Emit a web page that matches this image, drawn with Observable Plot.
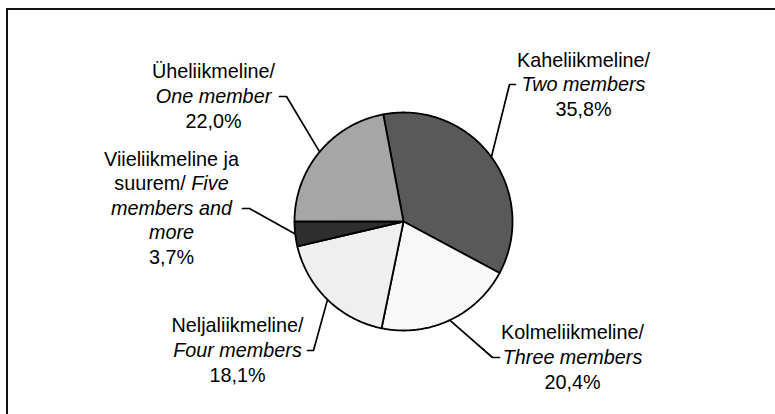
<!DOCTYPE html>
<html><head><meta charset="utf-8">
<script src="https://cdn.jsdelivr.net/npm/d3@7"></script>
<script src="https://cdn.jsdelivr.net/npm/@observablehq/plot@0.6"></script>
<style>
body{margin:0;background:#fff;}
#wrap{position:relative;width:775px;height:414px;overflow:hidden;background:#fff;}
#frame{position:absolute;left:6px;top:8px;width:800px;height:450px;border-top:2px solid #111;border-left:2px solid #111;}
#chart{position:absolute;left:0;top:0;}
</style></head><body>
<div id="wrap"><div id="frame"></div><div id="chart"></div></div>
<script>
// ---- data ----
const categories = ["Kaheliikmeline", "Kolmeliikmeline", "Neljaliikmeline", "Viieliikmeline ja suurem", "Üheliikmeline"];
const categoriesEn = ["Two members", "Three members", "Four members", "Five members and more", "One member"];
const shares = [35.8, 20.4, 18.1, 3.7, 22.0];
const shareLabels = ["35,8%", "20,4%", "18,1%", "3,7%", "22,0%"];
// label text lines: each line is a list of [text, italic]
const labelLines = [
  [[["Kaheliikmeline/", false]], [["Two members", true]], [["35,8%", false]]],
  [[["Kolmeliikmeline/", false]], [["Three members", true]], [["20,4%", false]]],
  [[["Neljaliikmeline/", false]], [["Four members", true]], [["18,1%", false]]],
  [[["Viieliikmeline ja", false]], [["suurem/ ", false], ["Five", true]], [["members and", true]], [["more", true]], [["3,7%", false]]],
  [[["Üheliikmeline/", false]], [["One member", true]], [["22,0%", false]]]
];

// ---- styles / layout ----
const fills = ["#595959", "#f8f8f8", "#efefef", "#2e2e2e", "#a6a6a6"];
const W = 775, H = 414, CX = 403, CY = 221, R = 109;
const START = -10.7 * Math.PI / 180;
const FS = 19.8, FONT = "Liberation Sans, Arial, sans-serif";
// label centre x, first baseline, line step, leader kink & end (pixels)
const labelLayout = [
  {cx: 583, base: 66, step: 24.5, kink: [509, 84], end: [515, 84]},
  {cx: 572, base: 338, step: 25, kink: [492, 357], end: [499, 357]},
  {cx: 237, base: 331, step: 25, kink: [313, 350], end: [307, 350]},
  {cx: 171, base: 165, step: 24.5, kink: [249, 208], end: [242, 208]},
  {cx: 213, base: 77, step: 25, kink: [286, 96], end: [279, 96]}
];

const px = (p) => (p - CX) / R;
const py = (p) => (CY - p) / R;

const rows = categories.map((c, i) => ({i, name: c, en: categoriesEn[i], share: shares[i], label: shareLabels[i]}));
const arcs = d3.pie().sort(null).value(d => d.share).startAngle(START).endAngle(START + 2 * Math.PI)(rows);

const slicePts = arcs.flatMap((a) => {
  const i = a.data.i;
  const pts = [{i, x: 0, y: 0}];
  const n = Math.max(8, Math.ceil((a.endAngle - a.startAngle) / 0.01));
  for (let k = 0; k <= n; k++) {
    const t = a.startAngle + (a.endAngle - a.startAngle) * k / n;
    pts.push({i, x: Math.sin(t), y: Math.cos(t)});
  }
  return pts;
});

const leaderPts = arcs.flatMap((a) => {
  const i = a.data.i, L = labelLayout[i];
  const m = (a.startAngle + a.endAngle) / 2;
  return [
    {i, x: Math.sin(m), y: Math.cos(m)},
    {i, x: px(L.kink[0]), y: py(L.kink[1])},
    {i, x: px(L.end[0]), y: py(L.end[1])}
  ];
});

// text segments
const canvas = document.createElement("canvas");
const ctx = canvas.getContext("2d");
function tw(t, it) { ctx.font = (it ? "italic " : "") + FS + "px " + FONT; return ctx.measureText(t).width; }
const segs = [];
labelLines.forEach((lines, i) => {
  const L = labelLayout[i];
  lines.forEach((line, j) => {
    const base = L.base + j * L.step;
    const yc = base - 0.32 * FS;
    if (line.length === 1) {
      segs.push({i, text: line[0][0], it: line[0][1], x: px(L.cx), y: py(yc), anchor: "middle"});
    } else {
      const total = d3.sum(line, s => tw(s[0], s[1]));
      let x0 = L.cx - total / 2;
      line.forEach(s => {
        segs.push({i, text: s[0], it: s[1], x: px(x0), y: py(yc), anchor: "start"});
        x0 += tw(s[0], s[1]);
      });
    }
  });
});

const textOpts = (it) => ({
  x: "x", y: "y", text: "text", fill: "#000", fontSize: FS, fontFamily: FONT,
  fontStyle: it ? "italic" : "normal", lineAnchor: "middle"
});

const chart = Plot.plot({
  width: W, height: H,
  margin: 0,
  style: {fontFamily: FONT, background: "transparent"},
  x: {domain: [px(0), px(W)], axis: null},
  y: {domain: [py(H), py(0)], axis: null},
  color: {type: "identity"},
  marks: [
    Plot.line(slicePts, {x: "x", y: "y", z: "i", fill: d => fills[d.i], stroke: "#000", strokeWidth: 1.8, curve: "linear-closed", strokeLinejoin: "round"}),
    Plot.line(leaderPts, {x: "x", y: "y", z: "i", stroke: "#000", strokeWidth: 1.7, curve: "linear"}),
    Plot.text(segs.filter(s => !s.it && s.anchor === "middle"), {...textOpts(false), textAnchor: "middle"}),
    Plot.text(segs.filter(s => s.it && s.anchor === "middle"), {...textOpts(true), textAnchor: "middle"}),
    Plot.text(segs.filter(s => !s.it && s.anchor === "start"), {...textOpts(false), textAnchor: "start"}),
    Plot.text(segs.filter(s => s.it && s.anchor === "start"), {...textOpts(true), textAnchor: "start"})
  ]
});
document.getElementById("chart").appendChild(chart);
</script>
</body></html>
